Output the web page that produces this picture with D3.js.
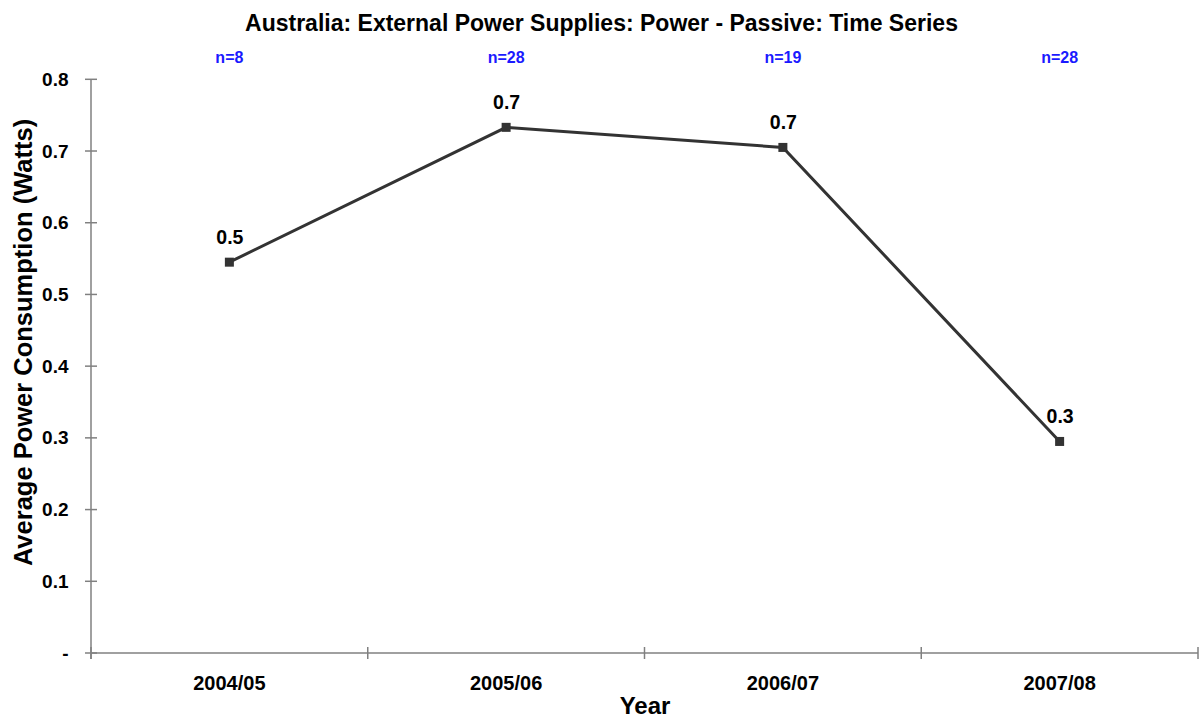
<!DOCTYPE html>
<html><head><meta charset="utf-8">
<script src="https://cdn.jsdelivr.net/npm/d3@7"></script>
<style>body{margin:0;background:#fff;} text{font-family:"Liberation Sans",Arial,sans-serif;font-weight:bold;}</style>
</head><body><svg id="c" width="1200" height="720"></svg>
<script>
const categories = ["2004/05","2005/06","2006/07","2007/08"];
const values = [0.545, 0.733, 0.705, 0.295];
const valueLabels = ["0.5","0.7","0.7","0.3"];
const counts = ["n=8","n=28","n=19","n=28"];
const yTicks = [0,0.1,0.2,0.3,0.4,0.5,0.6,0.7,0.8];
const yTickLabels = ["-","0.1","0.2","0.3","0.4","0.5","0.6","0.7","0.8"];

const svg = d3.select("#c");
const L=91, R=1198, T=79.3, B=653;
const x = d3.scaleBand().domain(categories).range([L,R]).padding(0);
const y = d3.scaleLinear().domain([0,0.8]).range([B,T]);
const axisColor="#808080";

svg.append("text").attr("x",601.5).attr("y",31).attr("text-anchor","middle").attr("font-size",23).attr("fill","#000")
  .text("Australia: External Power Supplies: Power - Passive: Time Series");

// y axis
svg.append("line").attr("x1",L).attr("x2",L).attr("y1",T).attr("y2",B+6).attr("stroke",axisColor).attr("stroke-width",1.5);
yTicks.forEach((t,i)=>{
  svg.append("line").attr("x1",L-6).attr("x2",L+6).attr("y1",y(t)).attr("y2",y(t)).attr("stroke",axisColor).attr("stroke-width",1.5);
  svg.append("text").attr("x",68.5).attr("y",y(t)+6.5).attr("text-anchor","end").attr("font-size",19).attr("fill","#000").text(yTickLabels[i]);
});
// x axis
svg.append("line").attr("x1",L).attr("x2",R).attr("y1",B).attr("y2",B).attr("stroke",axisColor).attr("stroke-width",1.5);
const bounds = categories.map(c=>x(c)).concat([R]);
bounds.forEach(b=>{
  svg.append("line").attr("x1",b).attr("x2",b).attr("y1",B-6).attr("y2",B+6).attr("stroke",axisColor).attr("stroke-width",1.5);
});
categories.forEach(c=>{
  svg.append("text").attr("x",x(c)+x.bandwidth()/2).attr("y",690).attr("text-anchor","middle").attr("font-size",20).attr("fill","#000").text(c);
});
counts.forEach((n,i)=>{
  svg.append("text").attr("x",x(categories[i])+x.bandwidth()/2).attr("y",63).attr("text-anchor","middle").attr("font-size",16).attr("fill","#1a1aff").text(n);
});

svg.append("text").attr("x",645).attr("y",714).attr("text-anchor","middle").attr("font-size",24).attr("fill","#000").text("Year");
svg.append("text").attr("transform","translate(32,342.5) rotate(-90)").attr("text-anchor","middle").attr("font-size",25.5).attr("fill","#000").text("Average Power Consumption (Watts)");

const cx = c=>x(c)+x.bandwidth()/2;
const line = d3.line().x((d,i)=>cx(categories[i])).y(d=>y(d));
svg.append("path").datum(values).attr("d",line).attr("fill","none").attr("stroke","#333").attr("stroke-width",3);
values.forEach((v,i)=>{
  svg.append("rect").attr("x",cx(categories[i])-4.5).attr("y",y(v)-4.5).attr("width",9).attr("height",9).attr("fill","#333");
  svg.append("text").attr("x",cx(categories[i])+0.5).attr("y",y(v)-18.5).attr("text-anchor","middle").attr("font-size",19.5).attr("fill","#000").text(valueLabels[i]);
});
</script></body></html>
